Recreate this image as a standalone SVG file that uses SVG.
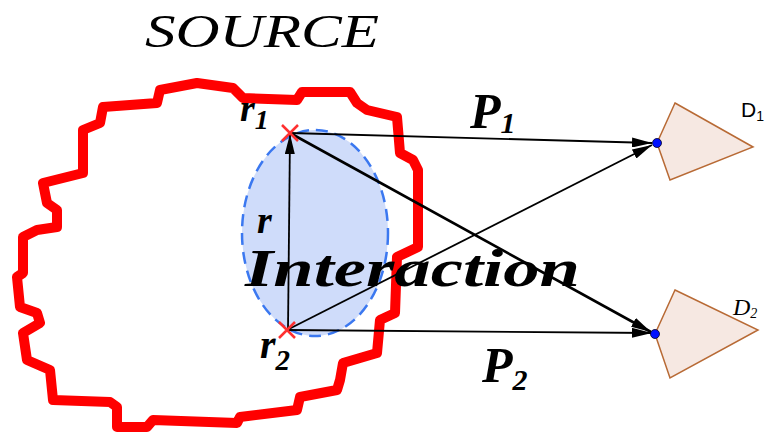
<svg xmlns="http://www.w3.org/2000/svg" width="772" height="435" viewBox="0 0 772 435">
<defs>
<style>
.lbl{font-family:'Liberation Serif','DejaVu Serif',serif;font-style:italic;font-weight:bold;fill:#000}
.edge{stroke:#000;stroke-width:1.8;fill:none}
.det{fill:#f6e8e2;stroke:#b86a35;stroke-width:1.5}
.dot{fill:#0010ff;stroke:#000022;stroke-width:0.8}
.cross{stroke:#ff3030;stroke-width:2.5}
</style>
<marker id="ah" viewBox="0 0 20 10" refX="20" refY="5" markerWidth="20" markerHeight="10" markerUnits="userSpaceOnUse" orient="auto">
<path d="M0,0 L20,5 L0,10 Z" fill="#000"/>
</marker>
</defs>
<rect width="772" height="435" fill="#fff"/>
<g id="source">
<path d="M160,90 L197,83 L233,88 L243,98 L297,100 L302,92 L350,92 L357,103 L367,110 L397,117 L400,153 L413,160 L418,170 L418,247 L397,257 L395,313 L380,320 L377,353 L343,363 L340,380 L337,390 L300,397 L297,410 L240,417 L237,423 L153,420 L147,427 L117,427 L117,407 L110,402 L53,400 L50,370 L27,360 L23,333 L40,323 L37,313 L20,307 L17,277 L23,273 L23,237 L37,230 L57,227 L57,210 L47,203 L43,183 L67,177 L83,173 L83,130 L100,123 L103,107 L157,103 Z" fill="none" stroke="#ff0000" stroke-width="10" stroke-linejoin="round"/>
<text x="145" y="47" font-family="Liberation Serif, serif" font-style="italic" font-size="47" textLength="234" lengthAdjust="spacingAndGlyphs" fill="#000">SOURCE</text>
</g>
<g id="interaction">
<ellipse cx="315" cy="233" rx="73" ry="103" fill="#cfdcfa" stroke="#3b78f0" stroke-width="2.5" stroke-dasharray="12,7"/>
</g>
<g id="connectors">
<line class="edge" x1="288" y1="330" x2="290" y2="134" marker-end="url(#ah)"/>
<line class="edge" x1="290" y1="133" x2="652" y2="143" marker-end="url(#ah)"/>
<line class="edge" x1="290" y1="133" x2="651" y2="332" marker-end="url(#ah)" style="stroke-width:2.6"/>
<line class="edge" x1="287" y1="330" x2="652" y2="145" marker-end="url(#ah)"/>
<line class="edge" x1="287" y1="330" x2="652" y2="333" marker-end="url(#ah)"/>
</g>
<g id="r1">
<path class="cross" d="M282,125 L298,141 M298,125 L282,141"/>
<text class="lbl" font-family="Liberation Serif, serif" x="240" y="121" font-size="38">r<tspan font-size="28" dy="8">1</tspan></text>
</g>
<g id="r2">
<path class="cross" d="M279,322 L295,338 M295,322 L279,338"/>
<text class="lbl" font-family="Liberation Serif, serif" x="260" y="358" font-size="40">r<tspan font-size="29" dy="12">2</tspan></text>
</g>
<text class="lbl" font-family="Liberation Serif, serif" x="257" y="233" font-size="38">r</text>
<text class="lbl" font-family="Liberation Serif, serif" x="245" y="286" font-size="52" textLength="335" lengthAdjust="spacingAndGlyphs">Interaction</text>
<text class="lbl" font-family="Liberation Serif, serif" x="470" y="128" font-size="50">P<tspan font-size="30" dy="5">1</tspan></text>
<text class="lbl" font-family="Liberation Serif, serif" x="482" y="382" font-size="50">P<tspan font-size="30" dy="8">2</tspan></text>
<g id="D1">
<polygon class="det" points="675,103 753,147 670,180 657,143"/>
<circle class="dot" cx="657" cy="143" r="4.5"/>
<text x="741" y="117" font-family="Liberation Sans, sans-serif" font-size="21" fill="#000">D<tspan font-size="14" dy="4">1</tspan></text>
</g>
<g id="D2">
<polygon class="det" points="675,290 758,330 670,378 655,334"/>
<circle class="dot" cx="655" cy="334" r="4.5"/>
<text x="733" y="315" font-family="Liberation Serif, serif" font-style="italic" font-size="24" fill="#000">D<tspan font-size="14" dy="3">2</tspan></text>
</g>
</svg>
